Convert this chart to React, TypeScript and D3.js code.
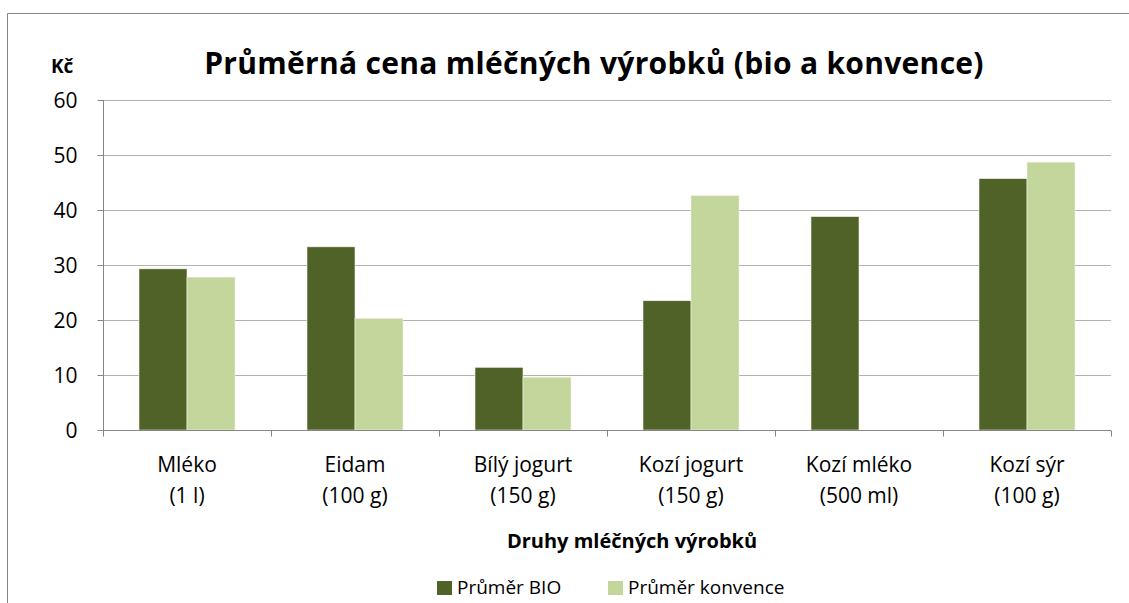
import React, { useEffect, useRef } from 'react'
import * as d3 from 'd3'

const categories = [
  ['Mléko', '(1 l)'],
  ['Eidam', '(100 g)'],
  ['Bílý jogurt', '(150 g)'],
  ['Kozí jogurt', '(150 g)'],
  ['Kozí mléko', '(500 ml)'],
  ['Kozí sýr', '(100 g)']
]
const seriesNames = ['Průměr BIO', 'Průměr konvence']
const bioValues = [29.3, 33.3, 11.4, 23.5, 38.8, 45.7]
const konvValues = [27.8, 20.3, 9.6, 42.6, null, 48.7]
const yTicks = [0, 10, 20, 30, 40, 50, 60]
const colors = ['#4f6228', '#c3d69b']

const font = '"Open Sans", sans-serif'

export default function App() {
  const ref = useRef<SVGSVGElement>(null)

  useEffect(() => {
    const svg = d3.select(ref.current)
    svg.selectAll('*').remove()

    const left = 103
    const right = 1111
    const top = 100
    const bottom = 430

    // outer chart border (cut off at right / bottom)
    svg
      .append('path')
      .attr('d', 'M7.5,603 L7.5,13.5 L1129,13.5')
      .attr('fill', 'none')
      .attr('stroke', '#868686')
      .attr('stroke-width', 1)

    const x = d3
      .scaleBand()
      .domain(categories.map((d, i) => String(i)))
      .range([left, right])
      .paddingInner(0)
    const inner = d3
      .scaleBand()
      .domain(['0', '1'])
      .range([0, x.bandwidth()])
      .paddingInner(0)
      .paddingOuter(0.75)
    const y = d3.scaleLinear().domain([0, 60]).range([bottom, top])

    // gridlines
    svg
      .append('g')
      .selectAll('line')
      .data(yTicks.slice(1))
      .enter()
      .append('line')
      .attr('x1', left)
      .attr('x2', right)
      .attr('y1', d => Math.round(y(d)) + 0.5)
      .attr('y2', d => Math.round(y(d)) + 0.5)
      .attr('stroke', '#b3b3b3')
      .attr('stroke-width', 1)

    // bars
    const data = categories.map((c, i) => ({ i, vals: [bioValues[i], konvValues[i]] }))
    const groups = svg
      .append('g')
      .selectAll('g')
      .data(data)
      .enter()
      .append('g')
      .attr('transform', d => `translate(${x(String(d.i))}, 0)`)
    groups
      .selectAll('rect')
      .data(d => d.vals.map((v, k) => ({ v, k })).filter(e => e.v != null))
      .enter()
      .append('rect')
      .attr('x', d => inner(String(d.k)))
      .attr('y', d => y(d.v as number))
      .attr('width', inner.bandwidth())
      .attr('height', d => bottom - y(d.v as number))
      .attr('fill', d => colors[d.k])
      .attr('stroke', '#eef2e4')
      .attr('stroke-width', 0.6)

    // y axis
    const yAxis = svg
      .append('g')
      .attr('transform', `translate(${left + 0.5}, 0)`)
      .call(d3.axisLeft(y).tickValues(yTicks).tickSize(6).tickPadding(8))
    yAxis.select('.domain').attr('stroke', '#868686').attr('d', `M0,${top}V${bottom}`)
    yAxis.selectAll('.tick line').attr('stroke', '#868686')
    yAxis
      .selectAll('.tick text')
      .attr('font-family', font)
      .attr('font-size', 21)
      .attr('fill', '#000')
      .attr('dx', -12)
      .attr('dy', '0.34em')

    // x axis
    const xAxis = svg.append('g').attr('transform', `translate(0, ${bottom + 0.5})`)
    xAxis
      .append('line')
      .attr('x1', left)
      .attr('x2', right)
      .attr('stroke', '#868686')
    xAxis
      .selectAll('line.tk')
      .data(d3.range(categories.length + 1))
      .enter()
      .append('line')
      .attr('class', 'tk')
      .attr('x1', d => left + d * x.step() + 0.5)
      .attr('x2', d => left + d * x.step() + 0.5)
      .attr('y1', 0)
      .attr('y2', 6)
      .attr('stroke', '#868686')
    const labels = xAxis
      .selectAll('text')
      .data(categories)
      .enter()
      .append('text')
      .attr('text-anchor', 'middle')
      .attr('font-family', font)
      .attr('font-size', 21)
      .attr('fill', '#000')
    labels
      .append('tspan')
      .attr('x', (d, i) => (x(String(i)) as number) + x.bandwidth() / 2)
      .attr('y', 41.5)
      .text(d => d[0])
    labels
      .append('tspan')
      .attr('x', (d, i) => (x(String(i)) as number) + x.bandwidth() / 2)
      .attr('y', 72.5)
      .text(d => d[1])

    // title
    svg
      .append('text')
      .attr('x', 594)
      .attr('y', 74)
      .attr('text-anchor', 'middle')
      .attr('font-family', font)
      .attr('font-weight', 'bold')
      .attr('font-size', 30)
      .attr('letter-spacing', 0.3)
      .text('Průměrná cena mléčných výrobků (bio a konvence)')

    svg
      .append('text')
      .attr('x', 51)
      .attr('y', 73)
      .attr('font-family', font)
      .attr('font-weight', 'bold')
      .attr('font-size', 19)
      .text('Kč')

    svg
      .append('text')
      .attr('x', 632)
      .attr('y', 548)
      .attr('text-anchor', 'middle')
      .attr('font-family', font)
      .attr('font-weight', 'bold')
      .attr('font-size', 20)
      .text('Druhy mléčných výrobků')

    // legend
    const legendX = [437, 608]
    const legend = svg
      .append('g')
      .selectAll('g')
      .data(seriesNames)
      .enter()
      .append('g')
      .attr('transform', (d, i) => `translate(${legendX[i]}, 0)`)
    legend
      .append('rect')
      .attr('x', 0)
      .attr('y', 581)
      .attr('width', 15)
      .attr('height', 14)
      .attr('fill', (d, i) => colors[i])
    legend
      .append('text')
      .attr('x', 20)
      .attr('y', 594)
      .attr('font-family', font)
      .attr('font-size', 19)
      .text(d => d)
  }, [])

  return (
    <svg
      ref={ref}
      width={1129}
      height={603}
      style={{ position: 'absolute', left: 0, top: 0, background: '#fff' }}
    />
  )
}
